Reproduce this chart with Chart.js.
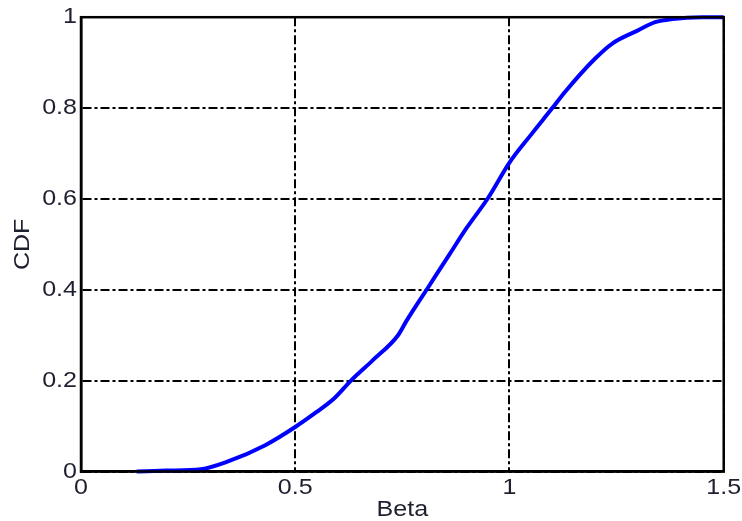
<!DOCTYPE html>
<html>
<head>
<meta charset="utf-8">
<title>CDF of Beta</title>
<script src="https://cdn.jsdelivr.net/npm/chart.js@4/dist/chart.umd.min.js"></script>
<style>
  html, body { margin: 0; padding: 0; background: #ffffff; }
  #wrap { width: 742px; height: 521px; }
</style>
</head>
<body>
<div id="wrap"><canvas id="cdf" width="742" height="521"></canvas></div>
<script>
// Empirical CDF of Beta
const betaValues = [0.13, 0.20, 0.28, 0.34, 0.43, 0.50, 0.55, 0.59, 0.63, 0.68, 0.74, 0.76, 0.81, 0.86, 0.90, 0.95, 1.00, 1.05, 1.10, 1.13, 1.20, 1.24, 1.30, 1.34, 1.38, 1.45, 1.50];
const cdfValues  = [0.000, 0.002, 0.005, 0.021, 0.058, 0.098, 0.131, 0.160, 0.200, 0.244, 0.300, 0.332, 0.405, 0.478, 0.536, 0.602, 0.680, 0.741, 0.800, 0.836, 0.909, 0.942, 0.971, 0.989, 0.996, 1.000, 1.000];
const xTicks = [0, 0.5, 1, 1.5];
const yTicks = [0, 0.2, 0.4, 0.6, 0.8, 1];

const points = betaValues.map((b, i) => ({ x: b, y: cdfValues[i] }));

const FONT = { family: '"Liberation Sans", Arial, sans-serif', size: 22 };
const TICK_COLOR = '#1e2030';
const GRID_DASH = [9, 3, 3, 3];
const TEXT_STRETCH = 1.14;

// Widen glyphs horizontally (around their anchor point) while the chart draws
const wideText = {
  id: 'wideText',
  beforeDraw(chart) {
    const ctx = chart.ctx;
    const original = ctx.fillText;
    ctx.fillText = function (text, x, y, maxWidth) {
      this.save();
      this.translate(x, y);
      this.scale(TEXT_STRETCH, 1);
      original.call(this, text, 0, 0, maxWidth);
      this.restore();
    };
  },
  afterDraw(chart) {
    delete chart.ctx.fillText;
  }
};

// Closed box around the plotting area
const frameBox = {
  id: 'frameBox',
  afterDatasetsDraw(chart) {
    const { ctx, chartArea: a } = chart;
    ctx.save();
    ctx.strokeStyle = '#000000';
    ctx.lineWidth = 2.5;
    ctx.setLineDash([]);
    ctx.strokeRect(a.left, a.top, a.right - a.left, a.bottom - a.top);
    ctx.restore();
  }
};

new Chart(document.getElementById('cdf'), {
  type: 'scatter',
  data: {
    datasets: [{
      data: points,
      showLine: true,
      borderColor: '#0000ff',
      backgroundColor: '#0000ff',
      borderWidth: 4,
      pointRadius: 0,
      cubicInterpolationMode: 'monotone',
      clip: false
    }]
  },
  options: {
    responsive: false,
    animation: false,
    layout: { padding: { left: 0, top: 15, right: 18, bottom: 0 } },
    plugins: { legend: { display: false }, tooltip: { enabled: false } },
    scales: {
      x: {
        type: 'linear',
        min: 0,
        max: 1.5,
        afterBuildTicks(scale) { scale.ticks = xTicks.map(v => ({ value: v })); },
        afterFit(scale) { scale.height = 49.5; },
        ticks: {
          color: TICK_COLOR,
          font: FONT,
          padding: 3,
          maxRotation: 0,
          autoSkip: false,
          callback: v => String(v)
        },
        grid: { color: '#000000', lineWidth: 2, drawTicks: false },
        border: { color: '#000000', width: 2.5, dash: GRID_DASH },
        title: {
          display: true,
          text: 'Beta',
          color: '#1e2030',
          font: { family: FONT.family, size: 22, lineHeight: 1 },
          padding: { top: 0, bottom: 0 }
        }
      },
      y: {
        type: 'linear',
        min: 0,
        max: 1,
        afterBuildTicks(scale) { scale.ticks = yTicks.map(v => ({ value: v })); },
        afterFit(scale) { scale.width = 81; },
        ticks: {
          color: TICK_COLOR,
          font: FONT,
          padding: 4,
          autoSkip: false,
          callback: v => String(v)
        },
        grid: { color: '#000000', lineWidth: 2, drawTicks: false },
        border: { color: '#000000', width: 2.5, dash: GRID_DASH },
        title: {
          display: true,
          text: 'CDF',
          color: '#1e2030',
          font: { family: FONT.family, size: 22, lineHeight: 1 },
          padding: { top: 12, bottom: 0 }
        }
      }
    }
  },
  plugins: [wideText, frameBox]
});
</script>
</body>
</html>
